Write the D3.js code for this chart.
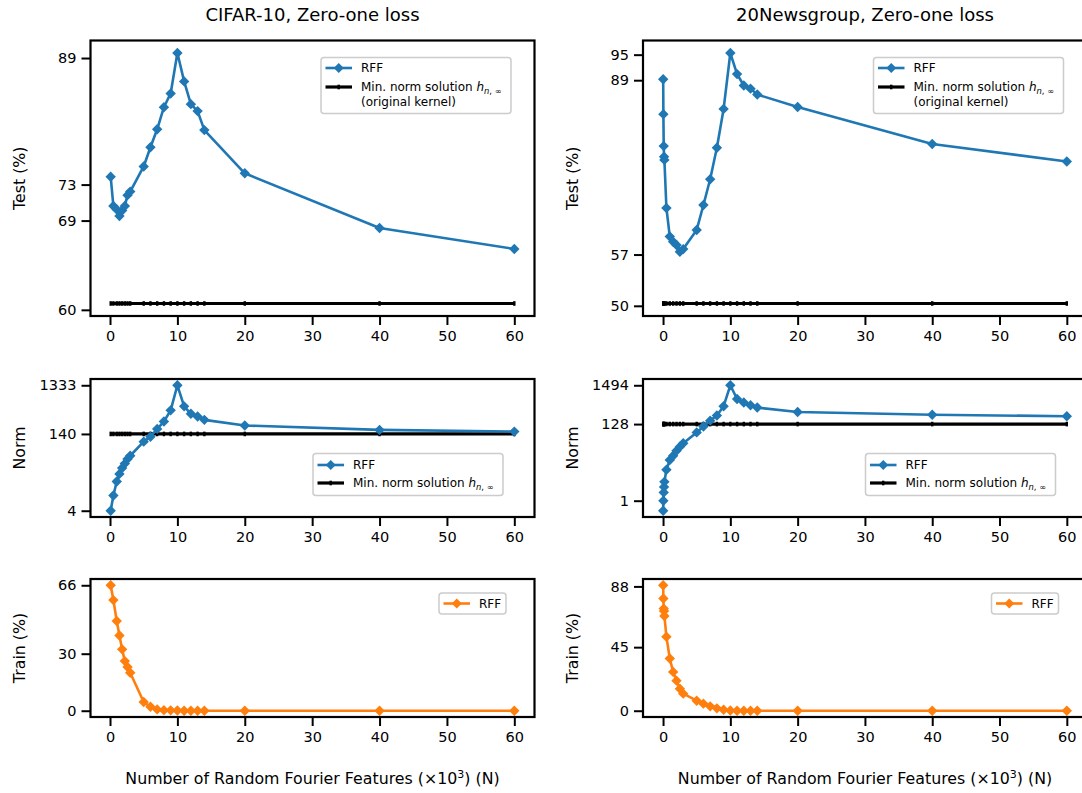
<!DOCTYPE html>
<html><head><meta charset="utf-8">
<script src="https://cdn.jsdelivr.net/npm/d3@7"></script>
<style>
body{margin:0;background:#fff}
svg{display:block}
text{font-family:"DejaVu Sans",sans-serif;fill:#000}
</style>
</head><body>
<svg id="c" width="1082" height="793"></svg>
<script>
// ---------------- data ----------------
const xTicks = [0, 10, 20, 30, 40, 50, 60];

// CIFAR-10 (N in thousands of random Fourier features)
const cifarN = [0.1, 0.5, 1, 1.4, 1.8, 2.2, 2.6, 3, 5, 6, 7, 8, 9, 10, 11, 12, 13, 14, 20, 40, 60];
const cifarTest = [73.9, 70.6, 70.2, 69.5, 70.1, 70.6, 71.8, 72.2, 75.1, 77.4, 79.6, 82.4, 84.2, 89.7, 85.8, 82.8, 81.9, 79.5, 74.3, 68.2, 66.0];
const cifarNorm = [4.0, 8.1, 15.5, 22, 29, 35.5, 44, 51, 98, 123, 177, 249, 417, 1333, 502, 356, 315, 269, 207, 169, 156];
const cifarTrain = [66, 58.2, 47.2, 39.6, 32.3, 26.1, 23.0, 20.0, 4.6, 2.1, 0.7, 0.3, 0.2, 0.1, 0, 0, 0, 0, 0, 0, 0];
const cifarMinNormTest = 60.6;
const cifarMinNormNorm = 140;
const cifarTestTicks = [60, 69, 73, 89];
const cifarNormTicks = [4, 140, 1333];
const cifarTrainTicks = [0, 30, 66];

// 20Newsgroup
const newsN = [0.02, 0.05, 0.1, 0.15, 0.2, 0.5, 1, 1.5, 2, 2.5, 3, 5, 6, 7, 8, 9, 10, 11, 12, 13, 14, 20, 40, 60];
const newsTest = [89.2, 81.6, 75.2, 73.2, 72.6, 64.2, 59.7, 58.9, 58.4, 57.4, 57.8, 60.7, 64.7, 69.1, 74.9, 82.7, 95.4, 90.4, 87.8, 87.1, 85.8, 83.1, 75.6, 72.3];
const newsNorm = [0.53, 1.0, 1.69, 2.4, 3.3, 7.1, 13.1, 17.3, 23.7, 30.5, 38, 75.5, 110, 159, 220, 397, 1494, 626, 504, 423, 364, 274, 230, 211];
const newsTrain = [88.8, 79.4, 72.3, 70.6, 67.1, 52.4, 37.0, 27.5, 21.3, 15.6, 12.1, 7.1, 5.0, 3.1, 1.7, 0.7, 0.2, 0, 0, 0, 0, 0, 0, 0];
const newsMinNormTest = 50.3;
const newsMinNormNorm = 128;
const newsTestTicks = [50, 57, 89, 95];
const newsNormTicks = [1, 128, 1494];
const newsTrainTicks = [0, 45, 88];

const titles = ["CIFAR-10, Zero-one loss", "20Newsgroup, Zero-one loss"];
const xLabel = "Number of Random Fourier Features (\u00d710";
const rowLabels = ["Test (%)", "Norm", "Train (%)"];
const seriesName = "RFF";
const refName = "Min. norm solution ";

// ---------------- layout ----------------
const BLUE = "#1f77b4", ORANGE = "#ff7f0e";
const TICK_FS = 14.5, LABEL_FS = 15.8, TITLE_FS = 18, LEG_FS = 12;
const colLeft = [90.5, 643];
const AW = 444;
const rowsGeo = [{top: 40.5, h: 275.5}, {top: 379, h: 138}, {top: 579, h: 138}];

const svg = d3.select("#c");

function diamond(cx, cy, r) {
  return `M${cx},${cy - r}L${cx + r},${cy}L${cx},${cy + r}L${cx - r},${cy}Z`;
}

function makeLegend(g, lx, ly, w, h, rows) {
  const lg = g.append("g").attr("transform", `translate(${lx},${ly})`);
  lg.append("rect").attr("width", w).attr("height", h).attr("rx", 3)
    .attr("fill", "white").attr("fill-opacity", 0.8)
    .attr("stroke", "#cccccc").attr("stroke-width", 1.5);
  rows.forEach(r => {
    if (r.kind === "series") {
      lg.append("line").attr("x1", 4.5).attr("x2", 31).attr("y1", r.y).attr("y2", r.y)
        .attr("stroke", r.color).attr("stroke-width", 2.6);
      lg.append("path").attr("d", diamond(17.75, r.y, 5)).attr("fill", r.color);
      lg.append("text").attr("x", 40).attr("y", r.y).attr("dy", "0.36em")
        .attr("font-size", LEG_FS).text(r.label);
    } else if (r.kind === "ref") {
      lg.append("line").attr("x1", 4.5).attr("x2", 31).attr("y1", r.y).attr("y2", r.y)
        .attr("stroke", "#000").attr("stroke-width", 3.2);
      lg.append("rect").attr("x", 16.5).attr("y", r.y - 2.3).attr("width", 2.4).attr("height", 4.6).attr("fill", "#000");
      const t = lg.append("text").attr("x", 40).attr("y", r.y).attr("dy", "0.36em").attr("font-size", LEG_FS);
      t.append("tspan").text(refName);
      t.append("tspan").attr("font-style", "italic").text("h");
      t.append("tspan").attr("font-style", "italic").attr("font-size", LEG_FS * 0.7).attr("dy", 2.5).text("n");
      t.append("tspan").attr("font-size", LEG_FS * 0.7).text(", \u221e");
    } else {
      lg.append("text").attr("x", 40).attr("y", r.y).attr("dy", "0.36em")
        .attr("font-size", LEG_FS).text(r.label);
    }
  });
}

function panel(o) {
  const g = svg.append("g").attr("transform", `translate(${o.x},${o.y})`);
  const xe = d3.extent(o.xs), xp = (xe[1] - xe[0]) * 0.05;
  const x = d3.scaleLinear().domain([xe[0] - xp, xe[1] + xp]).range([0, o.w]);
  const vals = o.ys.concat(o.ref != null ? [o.ref] : []);
  let y;
  if (o.log) {
    const lo = Math.log10(d3.min(vals)), hi = Math.log10(d3.max(vals)), p = (hi - lo) * 0.05;
    y = d3.scaleLog().domain([Math.pow(10, lo - p), Math.pow(10, hi + p)]).range([o.h, 0]);
  } else {
    const lo = d3.min(vals), hi = d3.max(vals), p = (hi - lo) * 0.05;
    y = d3.scaleLinear().domain([lo - p, hi + p]).range([o.h, 0]);
  }

  // axes
  const xa = g.append("g").attr("transform", `translate(0,${o.h})`)
    .call(d3.axisBottom(x).tickValues(xTicks).tickFormat(d3.format("d")).tickSize(9).tickSizeOuter(0).tickPadding(6));
  const ya = g.append("g")
    .call(d3.axisLeft(y).tickValues(o.yTicks).tickFormat(d3.format("d")).tickSize(9).tickSizeOuter(0).tickPadding(5));
  [xa, ya].forEach(a => {
    a.select(".domain").remove();
    a.selectAll(".tick line").attr("stroke", "#000").attr("stroke-width", 2);
    a.selectAll(".tick text").attr("font-size", TICK_FS).attr("font-family", '"DejaVu Sans",sans-serif').attr("fill", "#000");
  });

  // reference (min-norm) line
  if (o.ref != null) {
    g.append("line").attr("x1", x(o.xs[0])).attr("x2", x(o.xs[o.xs.length - 1]))
      .attr("y1", y(o.ref)).attr("y2", y(o.ref)).attr("stroke", "#000").attr("stroke-width", 3.2);
    g.selectAll(".refm").data(o.xs).enter().append("rect")
      .attr("x", d => x(d) - 1.2).attr("y", y(o.ref) - 2.3).attr("width", 2.4).attr("height", 4.6).attr("fill", "#000");
  }

  // series
  const pts = o.xs.map((d, i) => [d, o.ys[i]]);
  g.append("path").datum(pts).attr("fill", "none").attr("stroke", o.color).attr("stroke-width", 2.6)
    .attr("stroke-linejoin", "round")
    .attr("d", d3.line().x(d => x(d[0])).y(d => y(d[1])));
  g.selectAll(".mk").data(pts).enter().append("path")
    .attr("d", d => diamond(x(d[0]), y(d[1]), 5.2)).attr("fill", o.color);

  // frame
  g.append("rect").attr("width", o.w).attr("height", o.h).attr("fill", "none")
    .attr("stroke", "#000").attr("stroke-width", 2.2);

  // y label
  g.append("text").attr("transform", `translate(-71,${o.h / 2}) rotate(-90)`)
    .attr("text-anchor", "middle").attr("dy", "0.36em").attr("font-size", LABEL_FS).text(o.ylabel);

  if (o.legend) o.legend(g);
  return g;
}

const datasets = [
  {N: cifarN, test: cifarTest, norm: cifarNorm, train: cifarTrain, rt: cifarMinNormTest, rn: cifarMinNormNorm,
   tt: cifarTestTicks, nt: cifarNormTicks, trt: cifarTrainTicks},
  {N: newsN, test: newsTest, norm: newsNorm, train: newsTrain, rt: newsMinNormTest, rn: newsMinNormNorm,
   tt: newsTestTicks, nt: newsNormTicks, trt: newsTrainTicks}
];

datasets.forEach((ds, c) => {
  const X = colLeft[c];
  panel({x: X, y: rowsGeo[0].top, w: AW, h: rowsGeo[0].h, xs: ds.N, ys: ds.test, ref: ds.rt, log: true,
    yTicks: ds.tt, ylabel: rowLabels[0], color: BLUE,
    legend: g => makeLegend(g, 230.5, 17, 190, 56, [
      {kind: "series", color: BLUE, label: seriesName, y: 10.5},
      {kind: "ref", y: 29.5},
      {kind: "text", label: "(original kernel)", y: 44}
    ])});
  panel({x: X, y: rowsGeo[1].top, w: AW, h: rowsGeo[1].h, xs: ds.N, ys: ds.norm, ref: ds.rn, log: true,
    yTicks: ds.nt, ylabel: rowLabels[1], color: BLUE,
    legend: g => makeLegend(g, 222.5, 74.5, 190, 42, [
      {kind: "series", color: BLUE, label: seriesName, y: 11.5},
      {kind: "ref", y: 29.5}
    ])});
  panel({x: X, y: rowsGeo[2].top, w: AW, h: rowsGeo[2].h, xs: ds.N, ys: ds.train, ref: null, log: false,
    yTicks: ds.trt, ylabel: rowLabels[2], color: ORANGE,
    legend: g => makeLegend(g, 348.5, 14, 67, 21, [
      {kind: "series", color: ORANGE, label: seriesName, y: 10.5}
    ])});

  // title
  svg.append("text").attr("x", X + AW / 2).attr("y", 21).attr("text-anchor", "middle")
    .attr("font-size", TITLE_FS).text(titles[c]);
  // x label
  const xl = svg.append("text").attr("x", X + AW / 2).attr("y", 784).attr("text-anchor", "middle")
    .attr("font-size", LABEL_FS);
  xl.append("tspan").text(xLabel);
  xl.append("tspan").attr("font-size", LABEL_FS * 0.7).attr("dy", -6).text("3");
  xl.append("tspan").attr("dy", 6).text(") (N)");
});
</script>
</body></html>
